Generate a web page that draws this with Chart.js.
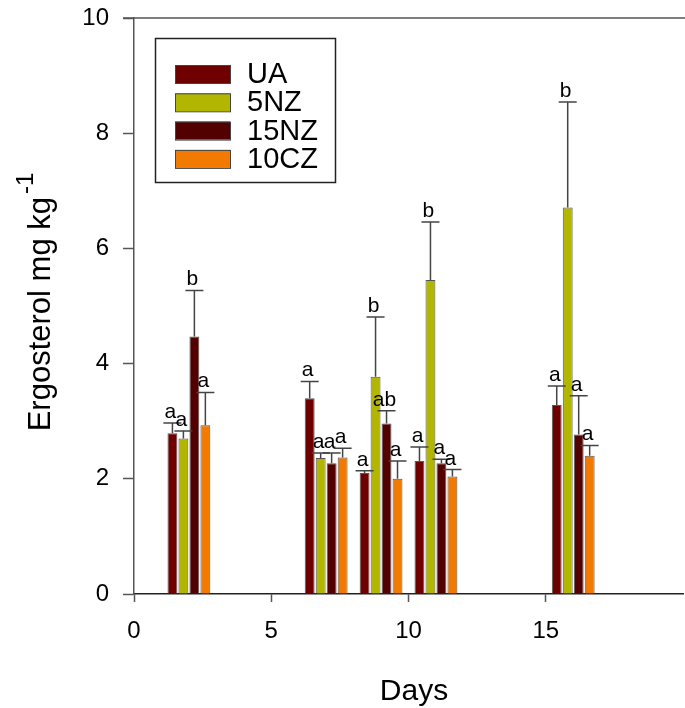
<!DOCTYPE html>
<html>
<head>
<meta charset="utf-8">
<script src="https://cdn.jsdelivr.net/npm/chart.js@4.4.0/dist/chart.umd.min.js"></script>
<style>
html, body { margin: 0; padding: 0; background: #fff; }
#wrap { width: 685px; height: 708px; }
</style>
</head>
<body>
<div id="wrap"><canvas id="chart-area" width="685" height="708"></canvas></div>
<script>
/* values */
var days = [2, 7, 9, 11, 16];
var seriesNames = ['UA', '5NZ', '15NZ', '10CZ'];

var uaValues = [2.79, 3.40, 2.10, 2.31, 3.28];
var uaErrors = [0.18, 0.29, 0.04, 0.24, 0.33];
var uaLetters = ['a', 'a', 'a', 'a', 'a'];

var nz5Values = [2.70, 2.36, 3.77, 5.45, 6.71];
var nz5Errors = [0.13, 0.09, 1.04, 1.01, 1.83];
var nz5Letters = ['a', 'a', 'b', 'b', 'b'];

var nz15Values = [4.47, 2.27, 2.96, 2.27, 2.77];
var nz15Errors = [0.80, 0.18, 0.22, 0.07, 0.67];
var nz15Letters = ['b', 'a', 'ab', 'a', 'a'];

var cz10Values = [2.93, 2.37, 2.00, 2.04, 2.40];
var cz10Errors = [0.57, 0.16, 0.31, 0.12, 0.18];
var cz10Letters = ['a', 'a', 'a', 'a', 'a'];

var yTicks = [0, 2, 4, 6, 8, 10];
var xTicks = [0, 5, 10, 15];

var FONT = '"Liberation Sans", Arial, sans-serif';

function points(vals) {
    return days.map(function (d, i) { return { x: d, y: vals[i] }; });
}

function makeSet(name, vals, errs, letters, color) {
    return {
        label: name,
        data: points(vals),
        errors: errs,
        letters: letters,
        backgroundColor: color,
        borderColor: '#555555',
        borderWidth: 1,
        borderSkipped: 'bottom'
    };
}

// error bars, significance letters, legend box, titles
var extras = {
    id: 'extras',
    afterDatasetsDraw: function (chart) {
        var ctx = chart.ctx;
        var ys = chart.scales.y;
        var area = chart.chartArea;
        ctx.save();

        chart.data.datasets.forEach(function (ds, i) {
            var meta = chart.getDatasetMeta(i);
            meta.data.forEach(function (bar, j) {
                var top = ys.getPixelForValue(ds.data[j].y + ds.errors[j]);
                ctx.strokeStyle = '#444444';
                ctx.lineWidth = 1.5;
                ctx.beginPath();
                ctx.moveTo(bar.x, bar.y);
                ctx.lineTo(bar.x, top);
                ctx.moveTo(bar.x - 9, top);
                ctx.lineTo(bar.x + 9, top);
                ctx.stroke();

                ctx.fillStyle = '#000';
                ctx.font = '21px ' + FONT;
                ctx.textAlign = 'center';
                ctx.textBaseline = 'alphabetic';
                ctx.fillText(ds.letters[j], bar.x - 2, top - 5);
            });
        });

        // top frame line
        ctx.strokeStyle = '#555555';
        ctx.lineWidth = 1.5;
        ctx.beginPath();
        ctx.moveTo(area.left - 11, area.top);
        ctx.lineTo(chart.width, area.top);
        ctx.stroke();

        // legend
        ctx.strokeStyle = '#222222';
        ctx.lineWidth = 1.5;
        ctx.strokeRect(155.5, 38.5, 180, 144);
        chart.data.datasets.forEach(function (ds, i) {
            var cy = 74 + i * 28.3;
            ctx.fillStyle = ds.backgroundColor;
            ctx.fillRect(175, cy - 9, 55, 18);
            ctx.strokeStyle = '#444444';
            ctx.lineWidth = 1;
            ctx.strokeRect(175.5, cy - 8.5, 55, 18);
            ctx.fillStyle = '#000';
            ctx.font = '29px ' + FONT;
            ctx.textAlign = 'left';
            ctx.textBaseline = 'middle';
            ctx.fillText(ds.label, 247, cy + 1);
        });

        // x title
        ctx.fillStyle = '#000';
        ctx.font = '30px ' + FONT;
        ctx.textAlign = 'center';
        ctx.textBaseline = 'alphabetic';
        ctx.fillText('Days', 414, 700);

        // y title with superscript
        ctx.translate(50, 302);
        ctx.rotate(-Math.PI / 2);
        var main = 'Ergosterol mg kg';
        var sup = '-1';
        ctx.font = '31px ' + FONT;
        var w1 = ctx.measureText(main).width;
        ctx.font = '24px ' + FONT;
        var w2 = ctx.measureText(sup).width;
        var x0 = -(w1 + w2 + 3) / 2;
        ctx.textAlign = 'left';
        ctx.font = '31px ' + FONT;
        ctx.fillText(main, x0, 0);
        ctx.font = '24px ' + FONT;
        ctx.fillText(sup, x0 + w1 + 3, -17);

        ctx.restore();
    }
};

var config = {
    type: 'bar',
    data: {
        datasets: [
            makeSet(seriesNames[0], uaValues, uaErrors, uaLetters, '#6e0000'),
            makeSet(seriesNames[1], nz5Values, nz5Errors, nz5Letters, '#b3b600'),
            makeSet(seriesNames[2], nz15Values, nz15Errors, nz15Letters, '#520000'),
            makeSet(seriesNames[3], cz10Values, cz10Errors, cz10Letters, '#f27a00')
        ]
    },
    options: {
        responsive: false,
        animation: false,
        layout: { padding: { top: 18, right: 2, left: 0, bottom: 0 } },
        plugins: {
            legend: { display: false },
            tooltip: { enabled: false }
        },
        scales: {
            x: {
                type: 'linear',
                min: 0,
                max: 20,
                offset: false,
                afterBuildTicks: function (scale) {
                    scale.ticks = xTicks.map(function (v) { return { value: v }; });
                },
                afterFit: function (scale) {
                    scale.height = 114;
                    scale.paddingLeft = 0;
                    scale.paddingRight = 0;
                },
                ticks: {
                    color: '#000',
                    font: { family: FONT, size: 24 },
                    padding: 15,
                    maxRotation: 0
                },
                grid: {
                    offset: false,
                    drawOnChartArea: false,
                    drawTicks: true,
                    tickLength: 8,
                    tickColor: '#555555',
                    tickWidth: 1.5
                },
                border: { color: '#222222', width: 1.5 }
            },
            y: {
                min: 0,
                max: 10,
                afterBuildTicks: function (scale) {
                    scale.ticks = yTicks.map(function (v) { return { value: v }; });
                },
                afterFit: function (scale) {
                    scale.width = 134;
                    scale.paddingTop = 0;
                    scale.paddingBottom = 0;
                },
                ticks: {
                    color: '#000',
                    font: { family: FONT, size: 24 },
                    padding: 14
                },
                grid: {
                    drawOnChartArea: false,
                    drawTicks: true,
                    tickLength: 11,
                    tickColor: '#555555',
                    tickWidth: 1.5
                },
                border: { color: '#555555', width: 1.5 }
            }
        }
    },
    plugins: [extras]
};

var ctx = document.getElementById('chart-area').getContext('2d');
var myChart = new Chart(ctx, config);
</script>
</body>
</html>
